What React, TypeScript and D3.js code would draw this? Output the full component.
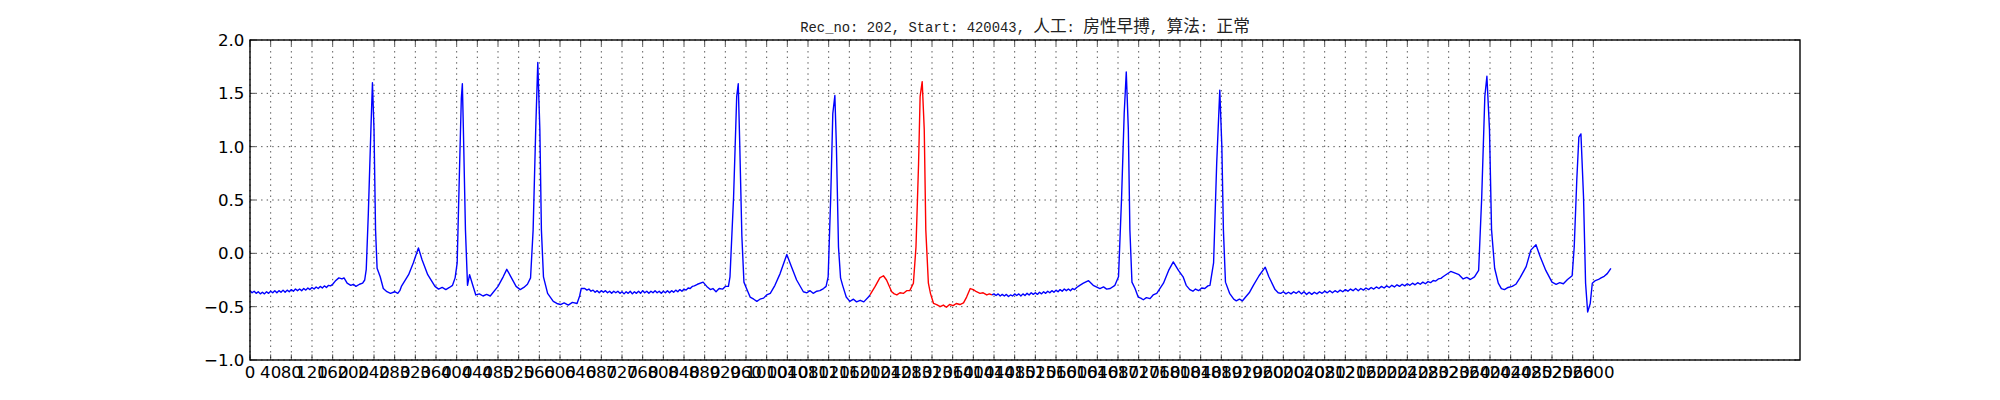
import React from "react";
import * as d3 from "d3";

// ECG samples: [sample index, amplitude]
const ecgPoints: [number, number][] = [
  [0, -0.35], [4, -0.37], [8, -0.355], [12, -0.375], [16, -0.36], [20, -0.38], [24, -0.365], [28, -0.38],
  [32, -0.36], [36, -0.375], [40, -0.355], [44, -0.37], [48, -0.35], [52, -0.37], [56, -0.35], [60, -0.365],
  [64, -0.345], [68, -0.365], [72, -0.345], [76, -0.36], [80, -0.34], [84, -0.355], [88, -0.335], [92, -0.35],
  [96, -0.335], [100, -0.35], [104, -0.33], [108, -0.345], [112, -0.325], [116, -0.34], [120, -0.32],
  [124, -0.335], [128, -0.315], [132, -0.33], [136, -0.31], [140, -0.325], [144, -0.305], [148, -0.32],
  [152, -0.3], [156, -0.305], [160, -0.29], [165, -0.26], [172, -0.23], [178, -0.24],
  [182, -0.23], [188, -0.28], [195, -0.3], [200, -0.29], [205, -0.31], [212, -0.29], [218, -0.28],
  [222, -0.25], [225, -0.15], [229, 0.37], [234, 1.16], [237, 1.6], [240, 1.16], [243, 0.22],
  [246, -0.14], [252, -0.22], [258, -0.33], [265, -0.36], [272, -0.375], [280, -0.36], [286, -0.375],
  [290, -0.35], [293, -0.31],
  [307, -0.2], [316, -0.09], [326, 0.05], [333, -0.06], [344, -0.2], [358, -0.31], [365, -0.335],
  [372, -0.32], [379, -0.34], [386, -0.32], [392, -0.3], [397, -0.23], [401, -0.09], [405, 0.69],
  [409, 1.45], [411, 1.59], [413, 1.16],
  [417, 0.22], [421, -0.3], [425, -0.2], [430, -0.28], [437, -0.39], [444, -0.38], [451, -0.4],
  [458, -0.385], [465, -0.4],
  [480, -0.31], [490, -0.22], [497, -0.15], [505, -0.22], [515, -0.31], [523, -0.34], [530, -0.32],
  [537, -0.29],
  [543, -0.23], [548, 0.22], [553, 1.16], [557, 1.79], [561, 1.16], [564, 0.22], [568, -0.22],
  [576, -0.375], [587, -0.45], [594, -0.47], [601, -0.48], [608, -0.465], [616, -0.485], [624, -0.46],
  [633, -0.47], [638, -0.4], [641, -0.33],
  [648, -0.33], [652, -0.345], [656, -0.335], [660, -0.355], [664, -0.345], [668, -0.365], [672, -0.35],
  [676, -0.37], [680, -0.35], [684, -0.365], [688, -0.35], [692, -0.37], [696, -0.355], [700, -0.375],
  [704, -0.355], [708, -0.37], [712, -0.355], [716, -0.375], [720, -0.36], [724, -0.38], [728, -0.36],
  [732, -0.375], [736, -0.355], [740, -0.38], [744, -0.36], [748, -0.375], [752, -0.355], [756, -0.375],
  [760, -0.35], [764, -0.37], [768, -0.355], [772, -0.375], [776, -0.355], [780, -0.37], [784, -0.35],
  [788, -0.37], [792, -0.355], [796, -0.375], [800, -0.355], [804, -0.37], [808, -0.35], [812, -0.37],
  [816, -0.35], [820, -0.365], [824, -0.345], [828, -0.36], [832, -0.34], [836, -0.355], [840, -0.335],
  [844, -0.345], [848, -0.325], [852, -0.33], [856, -0.31], [860, -0.305], [866, -0.29],
  [877, -0.27], [884, -0.31], [891, -0.34], [896, -0.33], [902, -0.36], [908, -0.33], [915, -0.335],
  [920, -0.31],
  [926, -0.31], [929, -0.22], [936, 0.53], [942, 1.47], [945, 1.59], [948, 1.0], [952, 0.16],
  [956, -0.27], [961, -0.33], [968, -0.41], [975, -0.43], [981, -0.45], [987, -0.43], [994, -0.42],
  [1000, -0.39], [1007, -0.375], [1016, -0.3],
  [1026, -0.19], [1039, -0.01], [1048, -0.125], [1058, -0.25], [1071, -0.36], [1078, -0.37],
  [1084, -0.35], [1090, -0.375],
  [1097, -0.355], [1103, -0.35], [1110, -0.33], [1115, -0.31], [1119, -0.22], [1124, 0.53], [1128, 1.31],
  [1132, 1.48], [1135, 1.0],
  [1139, 0.06], [1143, -0.23], [1147, -0.3], [1154, -0.41], [1161, -0.45], [1168, -0.43], [1174, -0.455],
  [1181, -0.44], [1188, -0.455],
  [1197, -0.41], [1200, -0.39], [1210, -0.31], [1219, -0.23], [1226, -0.21], [1232, -0.25],
  [1242, -0.36], [1247, -0.38], [1252, -0.39], [1258, -0.37], [1265, -0.375], [1271, -0.35],
  [1277, -0.35], [1284, -0.28], [1289, 0.06],
  [1294, 0.84], [1297, 1.47], [1301, 1.61], [1305, 1.16], [1308, 0.22], [1313, -0.28], [1317, -0.375],
  [1323, -0.47], [1329, -0.48], [1336, -0.5], [1342, -0.485], [1348, -0.505], [1354, -0.48],
  [1361, -0.49], [1367, -0.47], [1374, -0.48], [1381, -0.465], [1387, -0.41],
  [1394, -0.33], [1400, -0.34], [1406, -0.36], [1413, -0.375], [1419, -0.37], [1426, -0.39],
  [1431, -0.38], [1436, -0.39],
  [1440, -0.38], [1444, -0.395], [1448, -0.38], [1452, -0.4], [1456, -0.385], [1460, -0.4], [1464, -0.385],
  [1468, -0.405], [1472, -0.39], [1476, -0.4], [1480, -0.38], [1484, -0.395], [1488, -0.38], [1492, -0.4],
  [1496, -0.38], [1500, -0.395], [1504, -0.375], [1508, -0.39], [1512, -0.37], [1516, -0.385], [1520, -0.37],
  [1524, -0.385], [1528, -0.365], [1532, -0.38], [1536, -0.36], [1540, -0.375], [1544, -0.355],
  [1548, -0.37], [1552, -0.35], [1556, -0.365], [1560, -0.345], [1564, -0.36], [1568, -0.34],
  [1572, -0.355], [1576, -0.335], [1580, -0.35], [1584, -0.335], [1588, -0.35], [1592, -0.33],
  [1596, -0.34], [1600, -0.32], [1606, -0.3],
  [1613, -0.28], [1623, -0.256], [1632, -0.3], [1645, -0.33], [1652, -0.315], [1658, -0.335],
  [1665, -0.33], [1674, -0.3], [1681, -0.22],
  [1687, 0.53], [1692, 1.31], [1696, 1.7], [1700, 1.16], [1703, 0.22], [1707, -0.27], [1713, -0.33],
  [1719, -0.41], [1724, -0.42], [1729, -0.435], [1735, -0.415], [1742, -0.425], [1748, -0.39],
  [1755, -0.375], [1768, -0.28], [1778, -0.16],
  [1787, -0.08], [1797, -0.16], [1806, -0.22], [1812, -0.3], [1819, -0.34], [1825, -0.355],
  [1830, -0.335], [1836, -0.35], [1842, -0.325], [1848, -0.33], [1854, -0.305], [1858, -0.3],
  [1865, -0.09], [1871, 0.84], [1877, 1.53], [1881, 1.0], [1884, 0.22], [1888, -0.27], [1896, -0.375],
  [1904, -0.43], [1909, -0.445], [1915, -0.43], [1921, -0.445], [1927, -0.41], [1934, -0.37],
  [1942, -0.3], [1953, -0.21], [1965, -0.13],
  [1972, -0.22], [1984, -0.34], [1990, -0.37],
  [1995, -0.375], [2000, -0.36], [2005, -0.38], [2010, -0.365], [2015, -0.38], [2020, -0.36],
  [2025, -0.375], [2030, -0.355], [2035, -0.38], [2040, -0.36], [2045, -0.385], [2050, -0.365],
  [2055, -0.385], [2060, -0.365], [2065, -0.38], [2070, -0.36], [2075, -0.375], [2080, -0.355],
  [2085, -0.37], [2090, -0.35], [2095, -0.37], [2100, -0.35], [2105, -0.365], [2110, -0.345],
  [2115, -0.36], [2120, -0.34], [2125, -0.355], [2130, -0.335], [2135, -0.35], [2140, -0.33],
  [2145, -0.35], [2150, -0.33], [2155, -0.345], [2160, -0.325], [2165, -0.34], [2170, -0.32],
  [2175, -0.335], [2180, -0.315], [2185, -0.33], [2190, -0.31], [2195, -0.325], [2200, -0.305],
  [2205, -0.32], [2210, -0.3], [2215, -0.315], [2220, -0.295], [2225, -0.31], [2230, -0.29],
  [2235, -0.305], [2240, -0.285], [2245, -0.3], [2250, -0.28], [2255, -0.295], [2260, -0.275],
  [2265, -0.29], [2270, -0.27], [2275, -0.285], [2280, -0.265], [2285, -0.275], [2290, -0.255],
  [2295, -0.26], [2300, -0.24], [2305, -0.235], [2309, -0.22],
  [2324, -0.17], [2340, -0.2], [2348, -0.24], [2355, -0.225], [2362, -0.245], [2370, -0.22],
  [2378, -0.16], [2384, 0.53],
  [2390, 1.47], [2394, 1.66], [2399, 1.16], [2403, 0.22], [2409, -0.14], [2416, -0.28], [2422, -0.33],
  [2428, -0.34], [2435, -0.32], [2443, -0.31], [2450, -0.29],
  [2458, -0.23], [2470, -0.125], [2479, 0.03], [2489, 0.08], [2497, -0.03],
  [2508, -0.16], [2520, -0.27], [2528, -0.29], [2535, -0.275], [2542, -0.285], [2550, -0.245],
  [2559, -0.21], [2563, 0.06],
  [2568, 0.69], [2572, 1.09], [2576, 1.12], [2581, 0.53], [2585, -0.28], [2589, -0.55], [2594, -0.47],
  [2598, -0.28], [2604, -0.255], [2610, -0.245], [2615, -0.23], [2621, -0.215], [2627, -0.19],
  [2634, -0.14],
];

// highlighted (annotated) beat window
const redStart = 1200;
const redEnd = 1436;

const xDomain = [0, 3000];
const yDomain = [-1, 2];
const xTickStep = 40;
const xTickLast = 2600;
const yTickValues = [-1.0, -0.5, 0.0, 0.5, 1.0, 1.5, 2.0];
const titleText = "Rec_no: 202, Start: 420043, 人工: 房性早搏, 算法: 正常";

const W = 2000;
const H = 400;
const L = 250, R = 1800, T = 40, B = 360;
const PX = 100 / 72;

export default function App() {
  const x = d3.scaleLinear().domain(xDomain).range([L, R]);
  const y = d3.scaleLinear().domain(yDomain).range([B, T]);
  const line = d3
    .line<[number, number]>()
    .x((d) => x(d[0]))
    .y((d) => y(d[1]));
  const xTicks = d3.range(0, xTickLast + 1, xTickStep);
  const bluePre = ecgPoints.filter((d) => d[0] <= redStart);
  const redPts = ecgPoints.filter((d) => d[0] >= redStart && d[0] <= redEnd);
  const bluePost = ecgPoints.filter((d) => d[0] >= redEnd);
  const fmt = d3.format(".1f");
  const tick = 4 * PX;
  const dash = `${1 * PX},${3 * PX}`;

  // split title into latin / CJK runs
  const runs: { t: string; cjk: boolean }[] = [];
  for (const ch of titleText) {
    const cjk = /[\u3000-\u9fff\uff00-\uffef]/.test(ch);
    if (runs.length && runs[runs.length - 1].cjk === cjk) runs[runs.length - 1].t += ch;
    else runs.push({ t: ch, cjk });
  }

  return (
    <svg
      width={W}
      height={H}
      style={{ position: "absolute", left: 0, top: 0, background: "#fff" }}
      fontFamily="'DejaVu Sans', sans-serif"
    >
      <rect x={0} y={0} width={W} height={H} fill="#fff" />
      {/* grid */}
      <g stroke="#000" strokeWidth={0.5 * PX} strokeDasharray={dash}>
        {xTicks.map((t) => (
          <line key={"gx" + t} x1={x(t)} x2={x(t)} y1={T} y2={B} />
        ))}
        {yTickValues.map((t) => (
          <line key={"gy" + t} x1={L} x2={R} y1={y(t)} y2={y(t)} />
        ))}
      </g>
      {/* signal */}
      <path d={line(bluePre) || ""} fill="none" stroke="#0000ff" strokeWidth={1 * PX} strokeLinejoin="round" />
      <path d={line(bluePost) || ""} fill="none" stroke="#0000ff" strokeWidth={1 * PX} strokeLinejoin="round" />
      <path d={line(redPts) || ""} fill="none" stroke="#ff0000" strokeWidth={1 * PX} strokeLinejoin="round" />
      {/* ticks */}
      <g stroke="#000" strokeWidth={0.5 * PX}>
        {xTicks.map((t) => (
          <g key={"tx" + t}>
            <line x1={x(t)} x2={x(t)} y1={B} y2={B - tick} />
            <line x1={x(t)} x2={x(t)} y1={T} y2={T + tick} />
          </g>
        ))}
        {yTickValues.map((t) => (
          <g key={"ty" + t}>
            <line x1={L} x2={L + tick} y1={y(t)} y2={y(t)} />
            <line x1={R} x2={R - tick} y1={y(t)} y2={y(t)} />
          </g>
        ))}
      </g>
      {/* spines */}
      <rect x={L} y={T} width={R - L} height={B - T} fill="none" stroke="#000" strokeWidth={1 * PX} />
      {/* tick labels */}
      <g fontSize={12 * PX} fill="#000">
        {xTicks.map((t) => (
          <text key={"lx" + t} x={x(t)} y={B + 4 * PX + 12 * PX * 0.76} textAnchor="middle">
            {String(t)}
          </text>
        ))}
        {yTickValues.map((t) => (
          <text key={"ly" + t} x={L - 4 * PX} y={y(t)} dy="0.36em" textAnchor="end">
            {fmt(t)}
          </text>
        ))}
      </g>
      {/* title */}
      <text x={(L + R) / 2} y={32} textAnchor="middle" fill="#222">
        {runs.map((r, i) =>
          r.cjk ? (
            <tspan key={i} fontFamily="'Noto Sans CJK SC'" fontSize={12 * PX}>
              {r.t}
            </tspan>
          ) : (
            <tspan key={i} fontFamily="'Liberation Mono', monospace" fontSize={12 * PX * (0.5 / 0.6)} xmlSpace="preserve">
              {r.t}
            </tspan>
          )
        )}
      </text>
    </svg>
  );
}
